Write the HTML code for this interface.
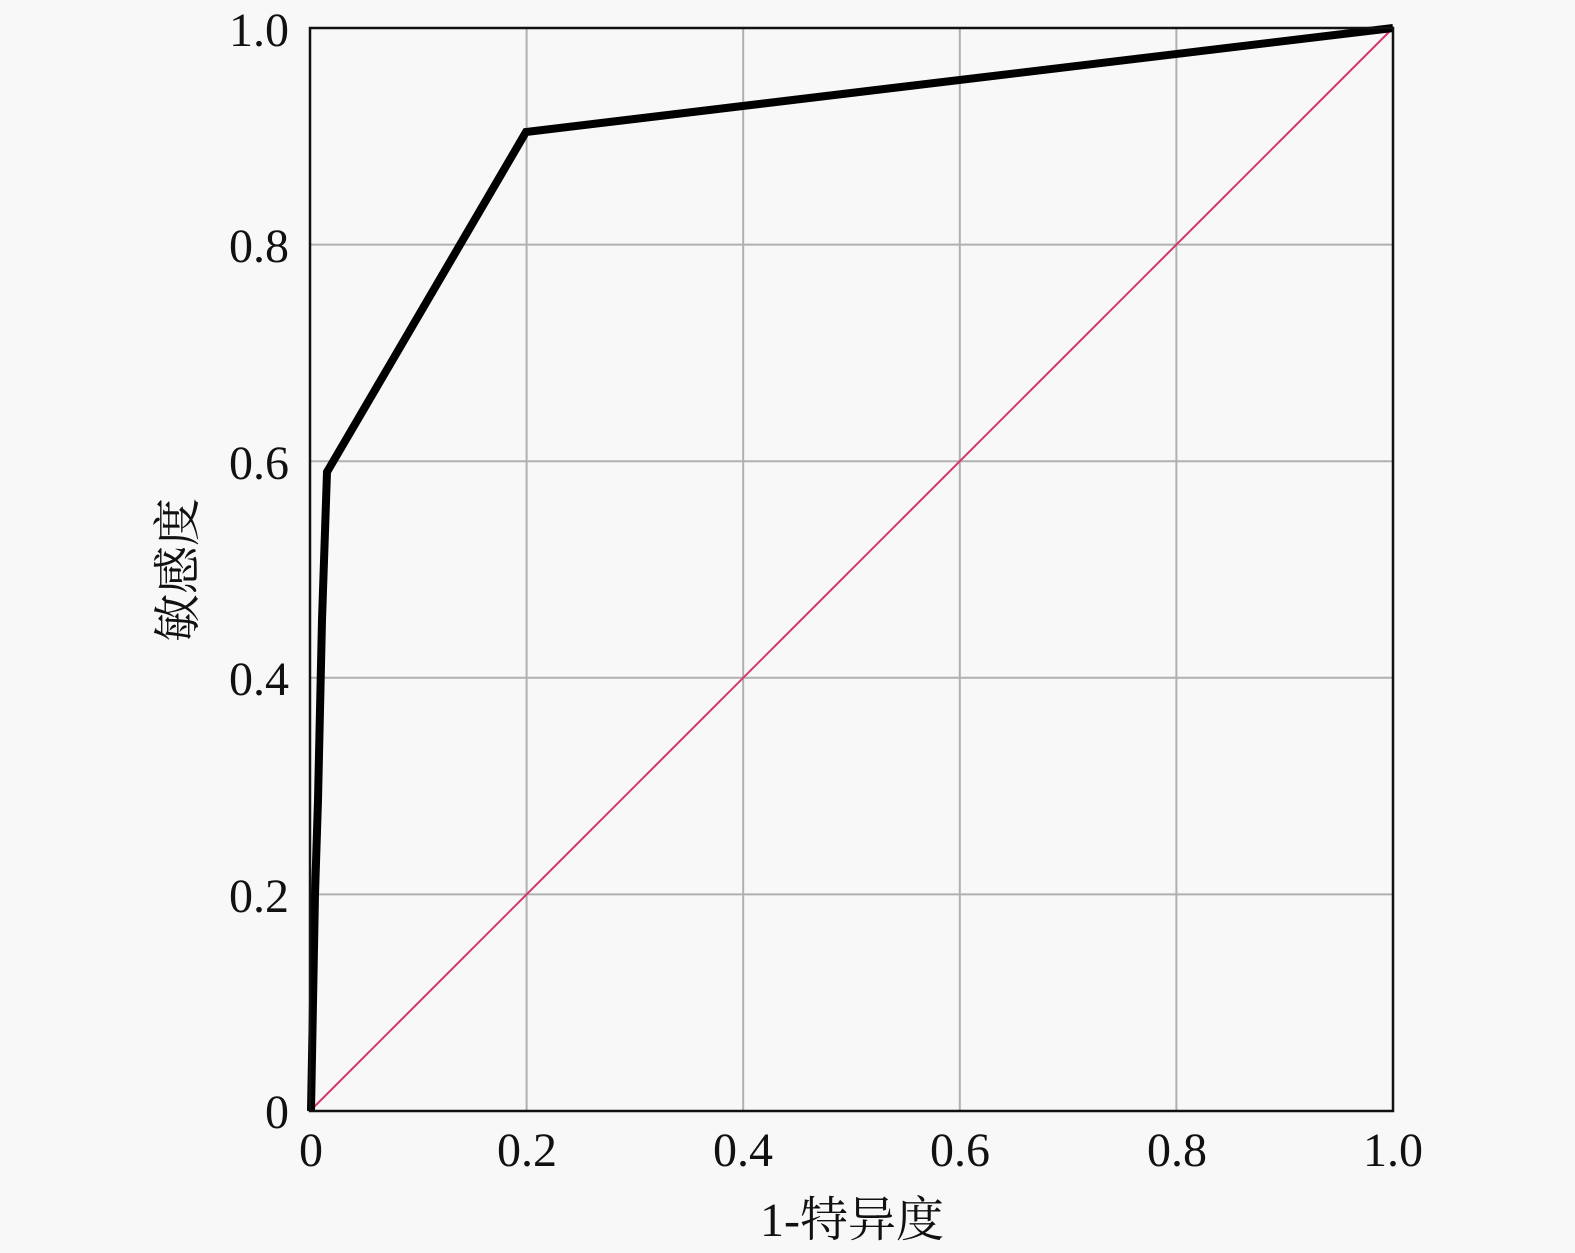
<!DOCTYPE html>
<html><head><meta charset="utf-8"><style>
html,body{margin:0;padding:0;background:#f8f8f8;}
svg{display:block}
text{font-family:"Liberation Serif","Noto Serif CJK SC",serif;fill:#111;font-size:48px}
</style></head><body>
<svg width="1575" height="1253" viewBox="0 0 1575 1253" xmlns="http://www.w3.org/2000/svg">
<rect width="1575" height="1253" fill="#f8f8f8"/>
<g stroke="#b0b0b0" stroke-width="2">
<line x1="526.6" y1="28" x2="526.6" y2="1111"/>
<line x1="743.2" y1="28" x2="743.2" y2="1111"/>
<line x1="959.8" y1="28" x2="959.8" y2="1111"/>
<line x1="1176.4" y1="28" x2="1176.4" y2="1111"/>
<line x1="310" y1="894.4" x2="1393" y2="894.4"/>
<line x1="310" y1="677.8" x2="1393" y2="677.8"/>
<line x1="310" y1="461.2" x2="1393" y2="461.2"/>
<line x1="310" y1="244.6" x2="1393" y2="244.6"/>
</g>
<line x1="310" y1="1111" x2="1393" y2="28" stroke="#d2386a" stroke-width="2"/>
<polyline points="311,1111 315,894 318,800 322,620 327,472 526,132 1393,28" fill="none" stroke="#000" stroke-width="8" stroke-linejoin="miter"/>
<rect x="310" y="28" width="1083" height="1083" fill="none" stroke="#111" stroke-width="2.5"/>
<g text-anchor="end">
<text x="289" y="46">1.0</text>
<text x="289" y="262">0.8</text>
<text x="289" y="479">0.6</text>
<text x="289" y="695">0.4</text>
<text x="289" y="912">0.2</text>
<text x="289" y="1128">0</text>
</g>
<g text-anchor="middle">
<text x="311" y="1166">0</text>
<text x="527" y="1166">0.2</text>
<text x="743" y="1166">0.4</text>
<text x="960" y="1166">0.6</text>
<text x="1177" y="1166">0.8</text>
<text x="1393" y="1166">1.0</text>
<text x="852" y="1236">1-特异度</text>
<text transform="translate(194,570) rotate(-90)">敏感度</text>
</g>
</svg>
</body></html>
